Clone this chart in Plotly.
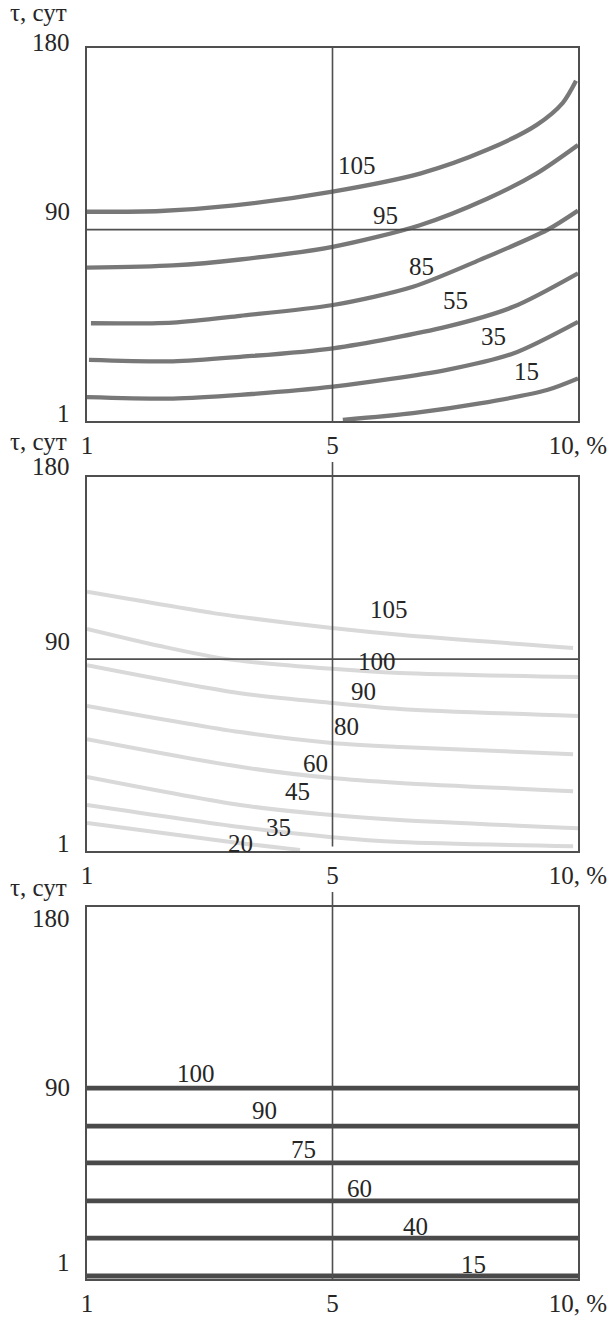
import plotly.graph_objects as go

# ---------------- data ----------------
# schematic axes: x position 0 -> "1", 0.5 -> "5", 1 -> "10, %"
X_TICK_POS = [0, 0.5, 1]
X_TICK_TEXT = ["1", "5", "10, %"]
# y position 0 -> "1", 0.513 -> "90", 1 -> "180"
Y_TICK_TEXT = ["1", "90", "180"]
Y_90 = 0.513

# Panel 1 (rising curves)
P1_NAMES = ["105", "95", "85", "55", "35", "15"]
P1_X = [
    [0.0, 0.15, 0.3, 0.5, 0.68, 0.815, 0.916, 0.969, 0.996],
    [0.0, 0.175, 0.312, 0.5, 0.678, 0.815, 0.916, 1.0],
    [0.008, 0.175, 0.312, 0.501, 0.664, 0.800, 0.937, 1.0],
    [0.004, 0.175, 0.312, 0.501, 0.733, 0.868, 1.0],
    [0.0, 0.175, 0.312, 0.501, 0.733, 0.868, 1.0],
    [0.521, 0.664, 0.800, 0.937, 1.0],
]
P1_Y = [
    [0.561, 0.563, 0.578, 0.615, 0.664, 0.727, 0.794, 0.853, 0.912],
    [0.411, 0.417, 0.433, 0.467, 0.525, 0.596, 0.664, 0.740],
    [0.262, 0.264, 0.282, 0.311, 0.360, 0.432, 0.512, 0.564],
    [0.164, 0.160, 0.172, 0.195, 0.253, 0.306, 0.396],
    [0.064, 0.060, 0.070, 0.092, 0.137, 0.181, 0.266],
    [0.003, 0.021, 0.047, 0.083, 0.114],
]
P1_LABEL_X = [0.550, 0.607, 0.682, 0.751, 0.827, 0.896]
P1_LABEL_Y = [0.684, 0.550, 0.414, 0.322, 0.226, 0.132]

# Panel 2 (falling curves)
P2_NAMES = ["105", "100", "90", "80", "60", "45", "35", "20"]
P2_X = [
    [0.0, 0.257, 0.312, 0.499, 0.637, 0.990],
    [0.0, 0.149, 0.285, 0.499, 0.637, 1.0],
    [0.0, 0.312, 0.499, 0.637, 1.0],
    [0.0, 0.312, 0.499, 0.637, 0.990],
    [0.0, 0.312, 0.499, 0.637, 0.990],
    [0.0, 0.312, 0.499, 0.637, 1.0],
    [0.0, 0.312, 0.499, 0.637, 0.990],
    [0.0, 0.312, 0.434],
]
P2_Y = [
    [0.693, 0.636, 0.626, 0.596, 0.578, 0.543],
    [0.594, 0.548, 0.513, 0.487, 0.476, 0.465],
    [0.497, 0.422, 0.396, 0.380, 0.361],
    [0.388, 0.318, 0.289, 0.278, 0.259],
    [0.299, 0.225, 0.195, 0.182, 0.160],
    [0.198, 0.123, 0.096, 0.083, 0.061],
    [0.123, 0.064, 0.037, 0.024, 0.013],
    [0.075, 0.021, 0.003],
]
P2_LABEL_X = [0.615, 0.590, 0.564, 0.529, 0.466, 0.429, 0.391, 0.312]
P2_LABEL_Y = [0.647, 0.506, 0.426, 0.332, 0.235, 0.158, 0.062, 0.021]

# Panel 3 (constant levels)
P3_NAMES = ["100", "90", "75", "60", "40", "15"]
P3_LEVELS = [0.513, 0.411, 0.312, 0.210, 0.110, 0.008]
P3_LABEL_X = [0.221, 0.362, 0.440, 0.555, 0.670, 0.787]
P3_LABEL_Y = [0.552, 0.452, 0.348, 0.242, 0.140, 0.038]

# ---------------- layout / style ----------------
W, H = 612, 1321
FONT = "Liberation Serif, Times New Roman, serif"
FS = 25
TXT = "#262626"
FRAME = "#4f4f4f"
X_DOM = [87 / W, 578 / W]
PANELS_PX = [(48, 421), (477, 851), (907, 1279)]  # (top, bottom) in px
Y_DOMS = [[1 - b / H, 1 - t / H] for t, b in PANELS_PX]

fig = go.Figure()

def add_curves(xs_list, ys_list, idx, color, width):
    xa = "x" if idx == 1 else f"x{idx}"
    ya = "y" if idx == 1 else f"y{idx}"
    for xs, ys in zip(xs_list, ys_list):
        fig.add_trace(go.Scatter(
            x=xs, y=ys, mode="lines", xaxis=xa, yaxis=ya,
            line=dict(color=color, width=width, shape="spline", smoothing=0.8),
            hoverinfo="skip", showlegend=False))

add_curves(P1_X, P1_Y, 1, "#787878", 4.3)
add_curves(P2_X, P2_Y, 2, "#d9d9d9", 4)
add_curves([[0, 1]] * len(P3_LEVELS), [[v, v] for v in P3_LEVELS], 3, "#4a4a4a", 4.8)

layout = dict(
    width=W, height=H, autosize=False, margin=dict(l=0, r=0, t=0, b=0, pad=0),
    paper_bgcolor="white", plot_bgcolor="white", showlegend=False,
    font=dict(family=FONT, size=FS, color=TXT),
)
for i in range(3):
    sfx = "" if i == 0 else str(i + 1)
    layout["xaxis" + sfx] = dict(
        domain=X_DOM, range=[0, 1], anchor="y" + sfx, automargin=False,
        showgrid=False, zeroline=False, showline=True, mirror=True,
        linecolor=FRAME, linewidth=2,
        tickmode="array", tickvals=X_TICK_POS, ticktext=X_TICK_TEXT,
        ticks="", tickfont=dict(family=FONT, size=FS, color=TXT),
        ticklabelstandoff=1,
    )
    layout["yaxis" + sfx] = dict(
        domain=Y_DOMS[i], range=[0, 1], anchor="x" + sfx, automargin=False,
        showgrid=False, zeroline=False, showline=True, mirror=True,
        linecolor=FRAME, linewidth=2, showticklabels=False, ticks="",
    )
fig.update_layout(**layout)

shapes = []
annotations = []
# guide lines
for i in range(3):
    sfx = "" if i == 0 else str(i + 1)
    top = 1.0 if i == 0 else 1.04
    bot = 0.0 if i != 1 else 0.012
    shapes.append(dict(type="line", xref="x" + sfx, yref="y" + sfx + " domain",
                       x0=0.5, x1=0.5, y0=bot, y1=top,
                       line=dict(color=FRAME, width=1.6)))
    if i < 2:
        shapes.append(dict(type="line", xref="x" + sfx + " domain", yref="y" + sfx,
                           x0=0, x1=1, y0=Y_90, y1=Y_90,
                           line=dict(color=FRAME, width=1.6)))

# curve labels
def add_labels(names, lx, ly, idx):
    sfx = "" if idx == 1 else str(idx)
    for n, x, y in zip(names, lx, ly):
        annotations.append(dict(text=n, x=x, y=y, xref="x" + sfx, yref="y" + sfx,
                                showarrow=False, font=dict(family=FONT, size=FS, color=TXT),
                                xanchor="center", yanchor="middle"))

add_labels(P1_NAMES, P1_LABEL_X, P1_LABEL_Y, 1)
add_labels(P2_NAMES, P2_LABEL_X, P2_LABEL_Y, 2)
add_labels(P3_NAMES, P3_LABEL_X, P3_LABEL_Y, 3)

# y tick labels + axis title (pixel rows measured per panel)
YLAB_ROWS = [
    (13, 42, 212, 413),
    (441, 466, 641, 843),
    (887, 918, 1087, 1262),
]
for title_y, y180, y90, y1 in YLAB_ROWS:
    annotations.append(dict(text="τ, сут", x=8 / W, y=1 - title_y / H, xref="paper", yref="paper",
                            showarrow=False, xanchor="left", yanchor="middle",
                            font=dict(family=FONT, size=FS, color=TXT)))
    for txt, py in zip(reversed(Y_TICK_TEXT), (y180, y90, y1)):
        annotations.append(dict(text=txt, x=72 / W, y=1 - py / H, xref="paper", yref="paper",
                                showarrow=False, xanchor="right", yanchor="middle",
                                font=dict(family=FONT, size=FS, color=TXT)))

fig.update_layout(shapes=shapes, annotations=annotations)
fig.write_html(
    "out.html",
    config={"responsive": False, "displayModeBar": False},
    post_script="document.body.style.margin='0';document.body.style.padding='0';"
                "document.documentElement.style.overflow='hidden';document.body.style.overflow='hidden';",
)
